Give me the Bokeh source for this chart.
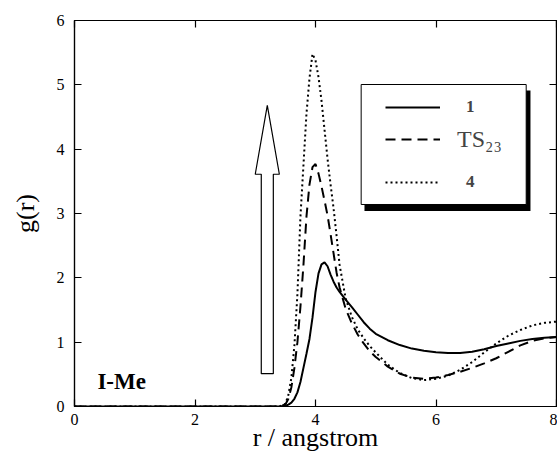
from bokeh.plotting import figure
from bokeh.models import (Range1d, FixedTicker, LinearAxis, Label, BoxAnnotation,
                          PolyAnnotation, Legend, LegendItem)
from bokeh.embed import file_html
from bokeh.resources import INLINE

# ---- data ----
r = [0.0, 3.4, 3.5, 3.55, 3.6, 3.65, 3.7, 3.75, 3.8, 3.85, 3.9, 3.95, 4.0, 4.05,
     4.1, 4.15, 4.2, 4.25, 4.3, 4.35, 4.4, 4.5, 4.6, 4.7, 4.8, 4.9, 5.0, 5.2,
     5.4, 5.6, 5.8, 6.0, 6.2, 6.4, 6.6, 6.8, 7.0, 7.2, 7.4, 7.6, 7.8, 8.0]
g_1 = [0, 0, 0.01, 0.03, 0.06, 0.12, 0.22, 0.38, 0.6, 0.82, 1.05, 1.38, 1.78, 2.07,
       2.21, 2.24, 2.18, 2.05, 1.94, 1.85, 1.78, 1.66, 1.55, 1.43, 1.31, 1.21, 1.13, 1.03,
       0.955, 0.9, 0.865, 0.845, 0.83, 0.83, 0.85, 0.89, 0.94, 0.98, 1.02, 1.05, 1.07, 1.08]
g_ts23 = [0, 0, 0.03, 0.12, 0.3, 0.6, 1.0, 1.55, 2.2, 2.95, 3.45, 3.72, 3.77, 3.62,
          3.42, 3.2, 2.97, 2.68, 2.38, 2.08, 1.85, 1.52, 1.3, 1.12, 0.98, 0.86, 0.77, 0.62,
          0.51, 0.45, 0.43, 0.45, 0.49, 0.54, 0.6, 0.67, 0.75, 0.85, 0.95, 1.02, 1.06, 1.08]
g_4 = [0, 0, 0.04, 0.18, 0.45, 0.95, 1.75, 2.95, 3.75, 4.55, 5.1, 5.48, 5.38, 5.12,
       4.75, 4.3, 3.85, 3.45, 3.08, 2.65, 2.2, 1.68, 1.4, 1.2, 1.06, 0.94, 0.84, 0.65,
       0.52, 0.44, 0.41, 0.43, 0.48, 0.57, 0.69, 0.84, 0.98, 1.1, 1.19, 1.26, 1.3, 1.32]
x_ticks = [0, 2, 4, 6, 8]
y_ticks = [0, 1, 2, 3, 4, 5, 6]
series_labels = ["1", "TS\u2082\u2083", "4"]
x_title = "r / angstrom"
y_title = "g(r)"

# hollow arrow outline (data space)
arrow_x = [3.10, 3.30, 3.30, 3.40, 3.20, 3.00, 3.10]
arrow_y = [0.51, 0.51, 3.61, 3.61, 4.68, 3.61, 3.61]

SERIF = "Liberation Serif"

p = figure(width=557, height=454, x_range=Range1d(0, 8), y_range=Range1d(0, 6),
           output_backend="svg", toolbar_location=None,
           min_border_left=74, min_border_right=1, min_border_top=20, min_border_bottom=48)
p.grid.visible = False
p.outline_line_color = "black"
p.outline_line_width = 1.2
p.background_fill_color = "white"
p.border_fill_color = "white"

def style_axis(ax, labels=True):
    ax.major_tick_in = 7
    ax.major_tick_out = 0
    ax.minor_tick_in = 0
    ax.minor_tick_out = 0
    ax.axis_line_color = "black"
    ax.axis_line_width = 1.2
    ax.major_tick_line_color = "black"
    ax.major_tick_line_width = 1.2
    if labels:
        ax.major_label_text_font = SERIF
        ax.major_label_text_font_size = "16px"
        ax.major_label_text_color = "black"
        ax.axis_label_text_font = SERIF
        ax.axis_label_text_font_size = "26px"
        ax.axis_label_text_font_style = "normal"
        ax.axis_label_text_color = "black"
    else:
        ax.major_label_text_font_size = "0px"
        ax.major_label_text_color = None
        ax.major_label_standoff = 0

p.xaxis.ticker = FixedTicker(ticks=x_ticks)
p.yaxis.ticker = FixedTicker(ticks=y_ticks)
style_axis(p.xaxis[0])
style_axis(p.yaxis[0])
p.xaxis.major_label_standoff = 7
p.yaxis.major_label_standoff = 10
p.xaxis.axis_label = x_title
p.yaxis.axis_label = y_title
p.xaxis.axis_label_standoff = -5
p.yaxis.axis_label_standoff = 14

top_ax = LinearAxis(ticker=FixedTicker(ticks=x_ticks))
style_axis(top_ax, labels=False)
p.add_layout(top_ax, "above")
right_ax = LinearAxis(ticker=FixedTicker(ticks=y_ticks))
style_axis(right_ax, labels=False)
p.add_layout(right_ax, "right")

# curves
r1 = p.line(r, g_1, line_color="black", line_width=2)
rts = p.line(r, g_ts23, line_color="black", line_width=2, line_dash="10 6")
r4 = p.line(r, g_4, line_color="black", line_width=2, line_dash="2 3")

# arrow
p.add_layout(PolyAnnotation(xs=arrow_x, ys=arrow_y, fill_color="white", fill_alpha=1,
                            line_color="black", line_alpha=1, line_width=1.2))

# legend frame with shadow
p.add_layout(BoxAnnotation(left=4.813, right=7.568, top=4.912, bottom=3.039,
                           fill_color="black", fill_alpha=1, line_color=None))
p.add_layout(BoxAnnotation(left=4.758, right=7.497, top=5.005, bottom=3.14,
                           fill_color="white", fill_alpha=1, line_color="black",
                           line_alpha=1, line_width=1))

leg_a = Legend(items=[LegendItem(label=series_labels[0], renderers=[r1]),
                      LegendItem(label=series_labels[2], renderers=[r4])],
               location=(311, 214), padding=0, margin=0, spacing=55,
               glyph_width=55, glyph_height=20, label_height=20, label_standoff=26,
               label_text_font=SERIF, label_text_font_style="bold",
               label_text_font_size="17px", border_line_color=None,
               background_fill_alpha=0)
leg_b = Legend(items=[LegendItem(label=series_labels[1], renderers=[rts])],
               location=(311, 251), padding=0, margin=0, spacing=0,
               glyph_width=55, glyph_height=32, label_height=32, label_standoff=17,
               label_text_font=SERIF, label_text_font_style="normal",
               label_text_font_size="24px", border_line_color=None,
               background_fill_alpha=0)
p.add_layout(leg_a)
p.add_layout(leg_b)

# annotation text
p.add_layout(Label(x=0.38, y=0.2, text="I-Me", text_font=SERIF, text_font_style="bold",
                   text_font_size="23px", text_color="black"))

open("out.html", "w").write(file_html(p, INLINE))
